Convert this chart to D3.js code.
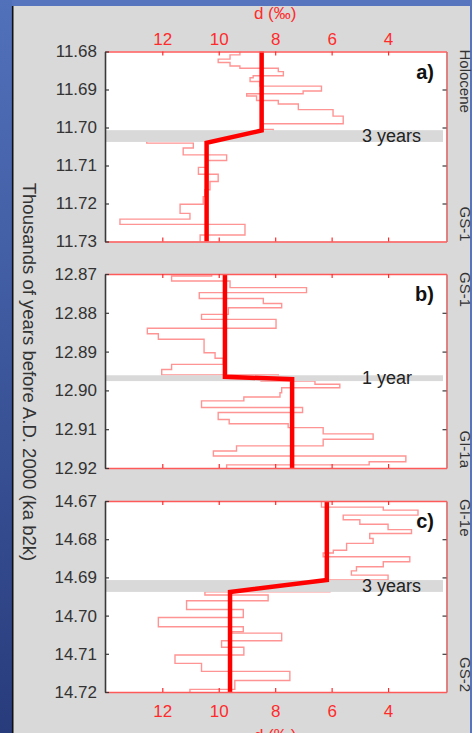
<!DOCTYPE html>
<html>
<head>
<meta charset="utf-8">
<script src="https://cdn.jsdelivr.net/npm/d3@7"></script>
<style>
  body { margin: 0; background: #d9d9d9; overflow: hidden; }
  svg { display: block; font-family: "Liberation Sans", Arial, Helvetica, sans-serif; }
</style>
</head>
<body>
<script>
// x axis (d, per mil), reversed
const dTicks = [12, 10, 8, 6, 4];

// panel a) Holocene / GS-1
const ageTicksA = [11.68, 11.69, 11.70, 11.71, 11.72, 11.73];
const ageA = [11.6800, 11.6809, 11.6820, 11.6829, 11.6838, 11.6844, 11.6853, 11.6864, 11.6869, 11.6879,
              11.6891, 11.6904, 11.6911, 11.6917, 11.6929, 11.6938, 11.6953, 11.6970, 11.6990, 11.7005,
              11.7013, 11.7028, 11.7041, 11.7054, 11.7072, 11.7087, 11.7105, 11.7123, 11.7142, 11.7164,
              11.7182, 11.7202, 11.7226, 11.7241, 11.7255, 11.7283, 11.7303];
const dA = [9.25, 9.60, 10.02, 9.60, 9.25, 7.89, 7.71, 8.78, 8.89, 8.54,
            6.36, 7.01, 9.01, 8.66, 7.89, 7.18, 5.95, 5.59, 8.42, 8.07,
            8.90, 12.55, 10.90, 11.26, 9.72, 10.43, 10.72, 10.02, 10.31, 10.49,
            10.55, 11.37, 11.02, 13.50, 9.07, 10.66];
const fitAgeA = [11.68, 11.7008, 11.7040, 11.73];
const fitDA = [8.48, 8.48, 10.43, 10.43];
const bandA = [11.7007, 11.7038];

// panel b) GS-1 / GI-1a
const ageTicksB = [12.87, 12.88, 12.89, 12.90, 12.91, 12.92];
const ageB = [12.8700, 12.8705, 12.8718, 12.8735, 12.8748, 12.8763, 12.8776, 12.8787, 12.8804, 12.8817,
              12.8840, 12.8854, 12.8868, 12.8903, 12.8917, 12.8933, 12.8946, 12.8960, 12.8969, 12.8976,
              12.8984, 12.8993, 12.9006, 12.9017, 12.9027, 12.9044, 12.9057, 12.9075, 12.9086, 12.9096,
              12.9112, 12.9126, 12.9143, 12.9156, 12.9169, 12.9184, 12.9192, 12.9203];
const dB = [10.25, 11.67, 9.60, 6.89, 10.69, 8.42, 7.77, 9.66, 10.61, 7.97,
            12.53, 12.14, 10.52, 10.13, 9.84, 11.67, 12.02, 7.89, 8.50, 6.59,
            5.71, 7.77, 7.83, 9.11, 10.61, 7.03, 10.02, 9.63, 7.54, 6.30,
            4.53, 6.30, 9.37, 10.19, 3.37, 4.67, 9.72];
const fitAgeB = [12.87, 12.8965, 12.8971, 12.92];
const fitDB = [9.78, 9.78, 7.40, 7.40];
const bandB = [12.8961, 12.8976];

// panel c) GI-1e / GS-2
const ageTicksC = [14.67, 14.68, 14.69, 14.70, 14.71, 14.72];
const ageC = [14.6700, 14.6716, 14.6724, 14.6737, 14.6749, 14.6761, 14.6775, 14.6785, 14.6798, 14.6811,
              14.6829, 14.6836, 14.6846, 14.6859, 14.6872, 14.6883, 14.6894, 14.6907, 14.6938, 14.6946,
              14.6961, 14.6984, 14.7005, 14.7029, 14.7042, 14.7046, 14.7066, 14.7083, 14.7103, 14.7125,
              14.7146, 14.7170, 14.7193, 14.7203];
const dC = [6.36, 4.17, 2.94, 5.59, 5.00, 4.00, 3.17, 4.65, 4.53, 5.47,
            5.94, 6.30, 3.23, 4.17, 5.12, 5.30, 4.00, 6.06, 10.49, 8.25,
            11.14, 9.13, 12.14, 9.13, 9.54, 7.77, 9.90, 9.11, 11.55, 10.61,
            7.48, 9.43, 11.02];
const fitAgeC = [14.67, 14.6907, 14.6938, 14.72];
const fitDC = [6.17, 6.17, 9.60, 9.60];
const bandC = [14.6907, 14.6938];

const W = 472, H = 733;
const red = "#ff2b2b";
const dark = "#333";

const svg = d3.select("body").append("svg")
    .attr("width", W)
    .attr("height", H);

const defs = svg.append("defs");
const grad = defs.append("linearGradient").attr("id", "blueLeft")
    .attr("x1", 0).attr("y1", 0).attr("x2", 0).attr("y2", 1);
grad.append("stop").attr("offset", "0%").attr("stop-color", "#5171bb");
grad.append("stop").attr("offset", "100%").attr("stop-color", "#283c7c");

// slide background
svg.append("rect").attr("width", W).attr("height", H).attr("fill", "#d9d9d9");
svg.append("rect").attr("width", W).attr("height", 6).attr("fill", "#5675be");
svg.append("rect").attr("width", 12).attr("height", H).attr("fill", "url(#blueLeft)");
svg.append("rect").attr("x", 470).attr("width", 2).attr("height", H).attr("fill", "#5675be");
svg.append("line").attr("x1", 12.7).attr("x2", 12.7).attr("y1", 6).attr("y2", H)
    .attr("stroke", "#111").attr("stroke-width", 1.6);

const x = d3.scaleLinear().domain([14.03, 1.93]).range([105, 446.5]);

const panels = [
  { key: "a", ages: ageA, d: dA, fitAge: fitAgeA, fitD: fitDA, band: bandA, bandLabel: "3 years",
    ticks: ageTicksA, top: 51.5, bottom: 241.5, labels: ["Holocene", "GS-1"], topText: true },
  { key: "b", ages: ageB, d: dB, fitAge: fitAgeB, fitD: fitDB, band: bandB, bandLabel: "1 year",
    ticks: ageTicksB, top: 274, bottom: 468, labels: ["GS-1", "GI-1a"] },
  { key: "c", ages: ageC, d: dC, fitAge: fitAgeC, fitD: fitDC, band: bandC, bandLabel: "3 years",
    ticks: ageTicksC, top: 501, bottom: 692, labels: ["GI-1e", "GS-2"], bottomText: true }
];

panels.forEach(function(p) {
    const y = d3.scaleLinear()
        .domain([p.ticks[0], p.ticks[p.ticks.length - 1]])
        .range([p.top, p.bottom]);
    const g = svg.append("g");
    const x0 = x.range()[0], x1 = x.range()[1];

    defs.append("clipPath").attr("id", "clip-" + p.key)
      .append("rect")
        .attr("x", x0).attr("y", p.top)
        .attr("width", x1 - x0).attr("height", p.bottom - p.top);

    g.append("rect")
        .attr("x", x0).attr("y", p.top)
        .attr("width", x1 - x0).attr("height", p.bottom - p.top)
        .attr("fill", "#fff");

    // annual values as stairs
    const pts = p.d.map((v, i) => [x(v), y(p.ages[i])]);
    pts.push([x(p.d[p.d.length - 1]), y(p.ages[p.ages.length - 1])]);
    g.append("path")
        .attr("clip-path", "url(#clip-" + p.key + ")")
        .attr("d", d3.line().curve(d3.curveStepBefore)(pts))
        .attr("fill", "none")
        .attr("stroke", "#ff9494")
        .attr("stroke-width", 1.4);

    // transition band
    g.append("rect")
        .attr("x", x0).attr("y", y(p.band[0]))
        .attr("width", 443 - x0).attr("height", y(p.band[1]) - y(p.band[0]))
        .attr("fill", "#d9d9d9");
    g.append("text")
        .attr("x", 362)
        .attr("y", (y(p.band[0]) + y(p.band[1])) / 2)
        .attr("dy", "0.35em")
        .attr("font-size", 18)
        .attr("fill", "#222")
        .text(p.bandLabel);

    // ramp fit
    g.append("path")
        .attr("d", d3.line()(p.fitD.map((v, i) => [x(v), y(p.fitAge[i])])))
        .attr("fill", "none")
        .attr("stroke", "#ff0000")
        .attr("stroke-width", 4.5);

    // axes
    const axTop = d3.axisTop(x).tickValues(dTicks).tickSizeInner(-4).tickSizeOuter(0).tickPadding(6.5);
    if (!p.topText) axTop.tickFormat("");
    const axBot = d3.axisBottom(x).tickValues(dTicks).tickSizeInner(-4).tickSizeOuter(0).tickPadding(13);
    if (!p.bottomText) axBot.tickFormat("");

    [[axTop, p.top], [axBot, p.bottom]].forEach(function(a) {
        const ag = g.append("g").attr("transform", `translate(0,${a[1]})`).call(a[0]);
        ag.select(".domain").attr("stroke", "#ff5a5a").attr("stroke-width", 1.6);
        ag.selectAll(".tick line").attr("stroke", red).attr("stroke-width", 1.2);
        ag.selectAll(".tick text").attr("fill", red).attr("font-size", 17)
            .attr("font-family", "Liberation Sans, Arial, sans-serif");
    });

    const axL = d3.axisLeft(y).tickValues(p.ticks).tickFormat(d3.format(".2f"))
        .tickSizeInner(-4).tickSizeOuter(0).tickPadding(8);
    const lg = g.append("g").attr("transform", `translate(${x0},0)`).call(axL);
    lg.select(".domain").attr("stroke", "#3a3a3a").attr("stroke-width", 1.6);
    lg.selectAll(".tick line").attr("stroke", "#3a3a3a").attr("stroke-width", 1.2);
    lg.selectAll(".tick text").attr("fill", dark).attr("font-size", 17)
        .attr("font-family", "Liberation Sans, Arial, sans-serif");

    const axR = d3.axisRight(y).tickValues(p.ticks.slice(1, -1)).tickFormat("")
        .tickSizeInner(-4).tickSizeOuter(0);
    const rg = g.append("g").attr("transform", `translate(${x1},0)`).call(axR);
    rg.select(".domain").attr("stroke", "#e06a6a").attr("stroke-width", 1.6);
    rg.selectAll(".tick line").attr("stroke", "#3a3a3a").attr("stroke-width", 1.2);

    // panel letter
    g.append("text")
        .attr("x", 434).attr("y", p.top + 27)
        .attr("text-anchor", "end")
        .attr("font-size", 20).attr("font-weight", "bold")
        .attr("fill", "#111")
        .text(p.key + ")");

    // stage labels on the right (cut by the slide edge, as in the original)
    g.append("text")
        .attr("transform", `translate(460,${p.top - 2}) rotate(90)`)
        .attr("text-anchor", "start")
        .attr("font-size", 15).attr("fill", dark)
        .text(p.labels[0]);
    g.append("text")
        .attr("transform", `translate(460,${p.bottom}) rotate(90)`)
        .attr("text-anchor", "end")
        .attr("font-size", 15).attr("fill", dark)
        .text(p.labels[1]);
});

// axis titles
svg.append("text")
    .attr("x", x(8)).attr("y", 19)
    .attr("text-anchor", "middle")
    .attr("font-size", 17).attr("fill", red)
    .text("d (‰)");
svg.append("text")
    .attr("x", x(8)).attr("y", 741)
    .attr("text-anchor", "middle")
    .attr("font-size", 17).attr("fill", red)
    .text("d (‰)");

svg.append("text")
    .attr("transform", "translate(23,372) rotate(90)")
    .attr("text-anchor", "middle")
    .attr("font-size", 18.5).attr("fill", dark)
    .text("Thousands of years before A.D. 2000 (ka b2k)");
</script>
</body>
</html>
